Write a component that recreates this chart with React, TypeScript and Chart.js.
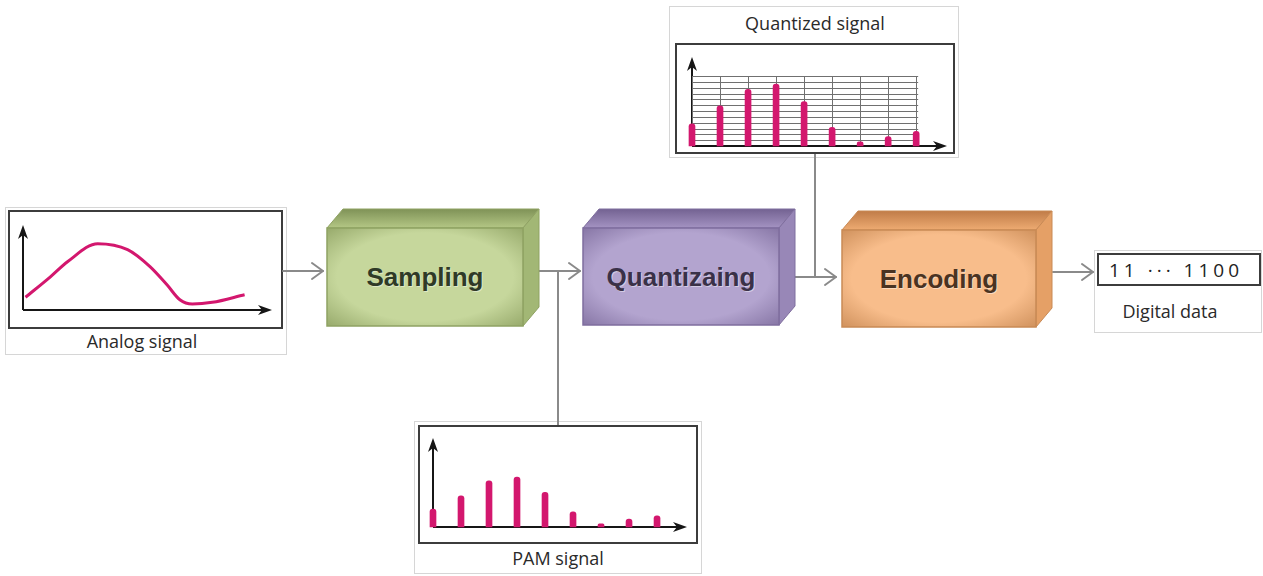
import React, { useEffect, useRef } from "react";
import { Chart, registerables } from "chart.js";

Chart.register(...registerables);

// ---------------- data ----------------
const analogTime = [0.1, 1.1, 1.8, 3.0, 4.2, 5.1, 5.8, 6.3, 6.8, 7.6, 8.9];
const analogAmplitude = [1.5, 3.9, 5.7, 7.8, 7.1, 5.1, 2.9, 1.2, 0.7, 0.9, 1.8];
const sampleTimes = [0, 1, 2, 3, 4, 5, 6, 7, 8];
const pamAmplitude = [2.0, 3.5, 5.2, 5.6, 3.9, 1.7, 0.35, 0.9, 1.25];
const quantizedLevel = [3.8, 6.9, 9.7, 10.6, 7.6, 3.2, 0.7, 1.6, 2.5];
const quantGridLevels = [1, 2, 3, 4, 5, 6, 7, 8, 9, 10, 11, 12];
const stageLabels = ["Sampling", "Quantizaing", "Encoding"];
const digitalText = "11 \u00b7\u00b7\u00b7 1100";

const MAGENTA = "#d3176e";
const AXIS = "#161616";

// ---------------- plugins ----------------
const axisArrows = {
  id: "axisArrows",
  beforeDatasetsDraw(chart: any) {
    const { ctx, chartArea } = chart;
    const { left, right, top, bottom } = chartArea;
    ctx.save();
    ctx.strokeStyle = AXIS;
    ctx.fillStyle = AXIS;
    ctx.lineWidth = 2;
    ctx.beginPath();
    ctx.moveTo(left, bottom);
    ctx.lineTo(right - 8, bottom);
    ctx.moveTo(left, bottom);
    ctx.lineTo(left, top + 8);
    ctx.stroke();
    ctx.beginPath();
    ctx.moveTo(right, bottom);
    ctx.lineTo(right - 14, bottom - 5);
    ctx.lineTo(right - 10, bottom);
    ctx.lineTo(right - 14, bottom + 5);
    ctx.closePath();
    ctx.fill();
    ctx.beginPath();
    ctx.moveTo(left, top);
    ctx.lineTo(left - 5, top + 14);
    ctx.lineTo(left, top + 10);
    ctx.lineTo(left + 5, top + 14);
    ctx.closePath();
    ctx.fill();
    ctx.restore();
  },
};

const quantGrid = {
  id: "quantGrid",
  beforeDatasetsDraw(chart: any) {
    const { ctx } = chart;
    const xs = chart.scales.x;
    const ys = chart.scales.y;
    const x0 = xs.getPixelForValue(sampleTimes[0]);
    const x1 = xs.getPixelForValue(sampleTimes[sampleTimes.length - 1]);
    const yb = ys.getPixelForValue(0);
    const yt = ys.getPixelForValue(quantGridLevels[quantGridLevels.length - 1]);
    ctx.save();
    ctx.strokeStyle = "#707070";
    ctx.lineWidth = 1;
    ctx.beginPath();
    quantGridLevels.forEach((lv) => {
      const y = Math.round(ys.getPixelForValue(lv)) + 0.5;
      ctx.moveTo(x0, y);
      ctx.lineTo(x1 + 2, y);
    });
    sampleTimes.forEach((t) => {
      const x = Math.round(xs.getPixelForValue(t)) + 0.5;
      ctx.moveTo(x, yb);
      ctx.lineTo(x, yt);
    });
    ctx.stroke();
    ctx.restore();
  },
};

// ---------------- configs ----------------
function barConfig(values: number[], yMax: number, xMax: number, padding: any, extra: any[]) {
  return {
    type: "bar",
    data: {
      datasets: [
        {
          data: sampleTimes.map((t, i) => ({ x: t, y: values[i] })),
          backgroundColor: MAGENTA,
          barThickness: 6,
          borderRadius: { topLeft: 3, topRight: 3 },
          borderSkipped: "bottom",
          clip: false,
        },
      ],
    },
    options: {
      responsive: false,
      animation: false,
      events: [],
      devicePixelRatio: 1,
      layout: { padding },
      plugins: { legend: { display: false }, tooltip: { enabled: false } },
      scales: {
        x: { type: "linear", min: 0, max: xMax, display: false, offset: false },
        y: { type: "linear", min: 0, max: yMax, display: false },
      },
    },
    plugins: [axisArrows, ...extra],
  };
}

const analogConfig = {
  type: "line",
  data: {
    datasets: [
      {
        data: analogTime.map((t, i) => ({ x: t, y: analogAmplitude[i] })),
        borderColor: MAGENTA,
        borderWidth: 3,
        pointRadius: 0,
        cubicInterpolationMode: "monotone",
        fill: false,
      },
    ],
  },
  options: {
    responsive: false,
    animation: false,
    events: [],
    devicePixelRatio: 1,
    layout: { padding: { left: 13, right: 10, top: 13, bottom: 17 } },
    plugins: { legend: { display: false }, tooltip: { enabled: false } },
    scales: {
      x: { type: "linear", min: 0, max: 10, display: false },
      y: { type: "linear", min: 0, max: 10, display: false },
    },
  },
  plugins: [axisArrows],
};

const pamConfig = barConfig(pamAmplitude, 10, 9.07, { left: 13, right: 9, top: 11, bottom: 14 }, []);
const quantConfig = barConfig(quantizedLevel, 15.26, 9.1, { left: 15, right: 6, top: 12, bottom: 5 }, [quantGrid]);

// ---------------- components ----------------
function MiniChart({ left, top, width, height, config }: any) {
  const ref = useRef<HTMLCanvasElement>(null);
  useEffect(() => {
    const chart = new Chart(ref.current as HTMLCanvasElement, config as any);
    return () => chart.destroy();
  }, [config]);
  return (
    <canvas
      ref={ref}
      width={width}
      height={height}
      style={{ position: "absolute", left, top, width, height }}
    />
  );
}

type Block = {
  label: string;
  L: number; T: number; R: number; B: number;
  front: string; frontEdge: string; topBack: string; topFront: string; side: string; text: string;
};

const DX = 16;
const DY = 19;

const blocks: Block[] = [
  { label: stageLabels[0], L: 327, T: 228, R: 523, B: 326, front: "#c6d79c", frontEdge: "#8fa263", topBack: "#7f9257", topFront: "#b4c785", side: "#a2b775", text: "#2f3a27" },
  { label: stageLabels[1], L: 583, T: 228, R: 779, B: 325, front: "#b3a4cf", frontEdge: "#7f6e9e", topBack: "#736292", topFront: "#a493c2", side: "#9887b7", text: "#3a3148" },
  { label: stageLabels[2], L: 842, T: 230, R: 1036, B: 327, front: "#f8bd8b", frontEdge: "#c98a55", topBack: "#c07c48", topFront: "#eeab72", side: "#e5a066", text: "#4a3322" },
];

function Arrow({ x1, y1, x2, y2 }: any) {
  return (
    <g stroke="#8a8a8a" strokeWidth={2} fill="none" strokeLinecap="round" strokeLinejoin="round">
      <line x1={x1} y1={y1} x2={x2} y2={y2} />
      <polyline points={`${x2 - 11},${y2 - 8} ${x2},${y2} ${x2 - 11},${y2 + 8}`} />
    </g>
  );
}

export default function App() {
  const capFont = "'Open Sans', 'DejaVu Sans', sans-serif";
  return (
    <div style={{ position: "absolute", left: 0, top: 0, width: 1263, height: 576, background: "#fff", overflow: "hidden" }}>
      <svg width={1263} height={576} style={{ position: "absolute", left: 0, top: 0 }}>
        <defs>
          {blocks.map((b, i) => (
            <linearGradient key={i} id={`topg${i}`} x1="0" y1="0" x2="0" y2="1">
              <stop offset="0" stopColor={b.topBack} />
              <stop offset="1" stopColor={b.topFront} />
            </linearGradient>
          ))}
          {blocks.map((b, i) => (
            <radialGradient key={`f${i}`} id={`frontg${i}`} cx="0.5" cy="0.5" r="0.75">
              <stop offset="0.6" stopColor={b.front} />
              <stop offset="1" stopColor={b.frontEdge} />
            </radialGradient>
          ))}
        </defs>

        {/* light frames */}
        <rect x={5.5} y={207.5} width={281} height={147} fill="none" stroke="#d6d6d6" strokeWidth={1} />
        <rect x={669.5} y={6.5} width={289} height={151} fill="none" stroke="#d6d6d6" strokeWidth={1} />
        <rect x={414.5} y={421.5} width={287} height={152} fill="none" stroke="#d6d6d6" strokeWidth={1} />
        <rect x={1094.5} y={250.5} width={167} height={82} fill="none" stroke="#d6d6d6" strokeWidth={1} />

        {/* dark boxes */}
        <rect x={9} y={211} width={273} height={117} fill="none" stroke="#3c3c3c" strokeWidth={2} />
        <rect x={676} y={44} width={278} height={109} fill="none" stroke="#3c3c3c" strokeWidth={2} />
        <rect x={419} y={426} width={278} height={117} fill="none" stroke="#3c3c3c" strokeWidth={2} />
        <rect x={1098} y={254} width={162} height={31} fill="#fff" stroke="#3c3c3c" strokeWidth={2} />

        {/* connectors */}
        <line x1={558} y1={271} x2={558} y2={425} stroke="#8a8a8a" strokeWidth={2} />
        <line x1={815} y1={154} x2={815} y2={277} stroke="#8a8a8a" strokeWidth={2} />
        <Arrow x1={283} y1={271} x2={323} y2={271} />
        <Arrow x1={539} y1={271} x2={580} y2={271} />
        <Arrow x1={795} y1={277} x2={836} y2={277} />
        <Arrow x1={1053} y1={272} x2={1093} y2={272} />

        {/* 3D blocks */}
        {blocks.map((b, i) => (
          <g key={i}>
            <polygon
              points={`${b.L},${b.T} ${b.L + DX},${b.T - DY} ${b.R + DX},${b.T - DY} ${b.R},${b.T}`}
              fill={`url(#topg${i})`}
              stroke={b.frontEdge}
              strokeWidth={1}
            />
            <polygon
              points={`${b.R},${b.T} ${b.R + DX},${b.T - DY} ${b.R + DX},${b.B - DY} ${b.R},${b.B}`}
              fill={b.side}
              stroke={b.frontEdge}
              strokeWidth={1}
            />
            <rect x={b.L} y={b.T} width={b.R - b.L} height={b.B - b.T} fill={`url(#frontg${i})`} stroke={b.frontEdge} strokeWidth={1.5} />
            <text
              x={(b.L + b.R) / 2 + 1}
              y={(b.T + b.B) / 2 + 1}
              textAnchor="middle"
              dominantBaseline="central"
              fontFamily="'Liberation Sans', Arial, sans-serif"
              fontWeight="bold"
              fontSize={26}
              fill="rgba(255,255,255,0.45)"
            >
              {b.label}
            </text>
            <text
              x={(b.L + b.R) / 2}
              y={(b.T + b.B) / 2}
              textAnchor="middle"
              dominantBaseline="central"
              fontFamily="'Liberation Sans', Arial, sans-serif"
              fontWeight="bold"
              fontSize={26}
              fill={b.text}
            >
              {b.label}
            </text>
          </g>
        ))}

        {/* captions */}
        <text x={142} y={341} textAnchor="middle" dominantBaseline="central" fontFamily={capFont} fontSize={18} fill="#2a2a2a">Analog signal</text>
        <text x={815} y={23} textAnchor="middle" dominantBaseline="central" fontFamily={capFont} fontSize={18} fill="#2a2a2a">Quantized signal</text>
        <text x={558} y={558} textAnchor="middle" dominantBaseline="central" fontFamily={capFont} fontSize={18} fill="#2a2a2a">PAM signal</text>
        <text x={1170} y={311} textAnchor="middle" dominantBaseline="central" fontFamily={capFont} fontSize={18} fill="#2a2a2a">Digital data</text>
        <text x={1176} y={270} textAnchor="middle" dominantBaseline="central" fontFamily={capFont} fontSize={19} letterSpacing={4} fill="#222">{digitalText}</text>
      </svg>

      <MiniChart left={10} top={212} width={272} height={115} config={analogConfig} />
      <MiniChart left={677} top={45} width={276} height={106} config={quantConfig} />
      <MiniChart left={420} top={427} width={276} height={114} config={pamConfig} />
    </div>
  );
}
